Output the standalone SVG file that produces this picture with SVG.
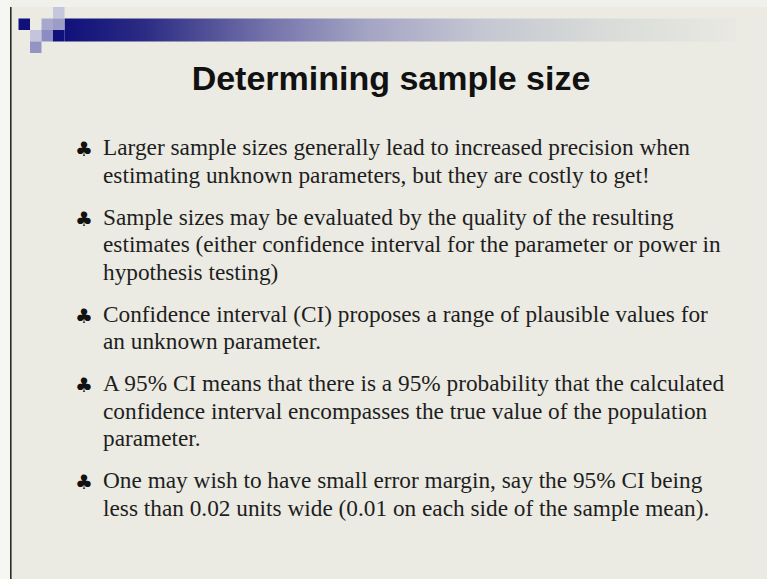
<svg xmlns="http://www.w3.org/2000/svg" width="767" height="579" viewBox="0 0 767 579">
  <defs>
    <linearGradient id="barGrad" x1="0" y1="0" x2="1" y2="0">
      <stop offset="0" stop-color="#10107a"/>
      <stop offset="0.12" stop-color="#2c2c84"/>
      <stop offset="0.3" stop-color="#7472aa"/>
      <stop offset="0.45" stop-color="#a4a4c4"/>
      <stop offset="0.62" stop-color="#c4c6d2"/>
      <stop offset="0.8" stop-color="#d8dbd8"/>
      <stop offset="1" stop-color="#e9e9e2"/>
    </linearGradient>
    <style>
      .body { font-family: "Liberation Serif", "Times New Roman", serif; font-size: 23.3px; fill: #1e1e1e; }
      .bullet { font-family: "DejaVu Sans", sans-serif; font-size: 20px; fill: #111; }
      .title { font-family: "Liberation Sans", Arial, sans-serif; font-size: 34px; font-weight: bold; fill: #111; }
    </style>
  </defs>
  <rect x="0" y="0" width="767" height="579" fill="#ebebe3"/>
  <rect x="0" y="0" width="767" height="7" fill="#f1f1eb"/>
  <rect x="0" y="0" width="10" height="579" fill="#f6f6f2"/>
  <rect x="10" y="7" width="1.6" height="572" fill="#2a2a2a"/>
  <g id="decoration">
    <rect x="64.5" y="18.5" width="672" height="23" fill="url(#barGrad)"/>
    <rect x="18.5" y="18.5" width="11.5" height="11.5" fill="#10107a"/>
    <rect x="53" y="7" width="11.5" height="11.5" fill="#c6c6dc"/>
    <rect x="41.5" y="18.5" width="11.5" height="11.5" fill="#a8a8cc"/>
    <rect x="53" y="18.5" width="11.5" height="11.5" fill="#9c9cc8"/>
    <rect x="30" y="30" width="11.5" height="11.5" fill="#c4c4dc"/>
    <rect x="41.5" y="30" width="11.5" height="11.5" fill="#8c8cc2"/>
    <rect x="53" y="30" width="11.5" height="11.5" fill="#10107a"/>
    <rect x="30" y="41.5" width="11.5" height="11.5" fill="#9494c4"/>
  </g>
  <g id="title">
    <text class="title" x="391" y="90" text-anchor="middle">Determining sample size</text>
  </g>
  <g id="item1">
    <text class="bullet" x="75" y="156">♣</text>
    <text class="body" x="103" y="155">Larger sample sizes generally lead to increased precision when</text>
    <text class="body" x="103" y="182.5">estimating unknown parameters, but they are costly to get!</text>
  </g>
  <g id="item2">
    <text class="bullet" x="75" y="225.5">♣</text>
    <text class="body" x="103" y="224.5">Sample sizes may be evaluated by the quality of the resulting</text>
    <text class="body" x="103" y="252">estimates (either confidence interval for the parameter or power in</text>
    <text class="body" x="103" y="279.5">hypothesis testing)</text>
  </g>
  <g id="item3">
    <text class="bullet" x="75" y="322.5">♣</text>
    <text class="body" x="103" y="321.5">Confidence interval (CI) proposes a range of plausible values for</text>
    <text class="body" x="103" y="349">an unknown parameter.</text>
  </g>
  <g id="item4">
    <text class="bullet" x="75" y="392">♣</text>
    <text class="body" x="103" y="391">A 95% CI means that there is a 95% probability that the calculated</text>
    <text class="body" x="103" y="418.5">confidence interval encompasses the true value of the population</text>
    <text class="body" x="103" y="446">parameter.</text>
  </g>
  <g id="item5">
    <text class="bullet" x="75" y="489">♣</text>
    <text class="body" x="103" y="488">One may wish to have small error margin, say the 95% CI being</text>
    <text class="body" x="103" y="515.5">less than 0.02 units wide (0.01 on each side of the sample mean).</text>
  </g>
</svg>
